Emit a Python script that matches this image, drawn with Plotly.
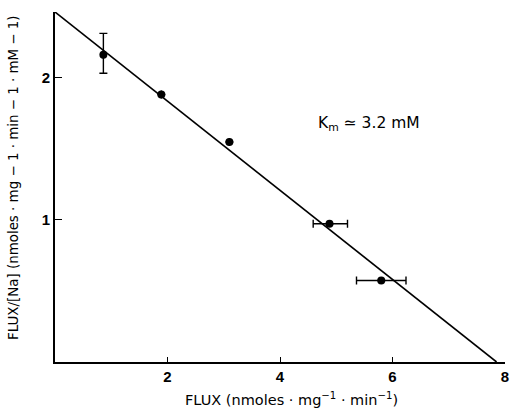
import plotly.graph_objects as go

# Data
flux = [0.86, 1.89, 3.10, 4.88, 5.80]
flux_na = [2.16, 1.88, 1.546, 0.972, 0.573]
y_err_plus = [0.15, 0, 0, 0, 0]
y_err_minus = [0.13, 0, 0, 0, 0]
x_err_plus = [0, 0, 0, 0.32, 0.44]
x_err_minus = [0, 0, 0, 0.29, 0.44]

fit_x = [0.0, 7.85]
fit_y = [2.46, 0.0]

x_ticks = [2, 4, 6, 8]
y_ticks = [1, 2]

x_title = "FLUX (nmoles · mg<sup>−1</sup> · min<sup>−1</sup>)"
y_title = "FLUX/[Na] (nmoles · mg − 1 · min − 1 · mM − 1)"
km_text = "K<sub>m</sub> ≃ 3.2 mM"

font = "Liberation Sans, Arial, Helvetica, sans-serif"
wide = "DejaVu Sans, Liberation Sans, sans-serif"

fig = go.Figure()
fig.add_trace(go.Scatter(x=fit_x, y=fit_y, mode="lines",
                         line=dict(color="black", width=1.6), showlegend=False,
                         cliponaxis=False))
fig.add_trace(go.Scatter(
    x=flux, y=flux_na, mode="markers",
    marker=dict(color="black", size=8),
    error_y=dict(type="data", symmetric=False, array=y_err_plus, arrayminus=y_err_minus,
                 color="black", thickness=1.4, width=4),
    error_x=dict(type="data", symmetric=False, array=x_err_plus, arrayminus=x_err_minus,
                 color="black", thickness=1.4, width=4),
    showlegend=False, cliponaxis=False))

fig.add_annotation(x=5.58, y=1.67, xref="x", yref="y",
                   text=km_text, showarrow=False,
                   font=dict(family=wide, size=15.5, color="black"))

# Axis titles as annotations to match their offset positions
fig.add_annotation(x=0.525, y=-0.105, xref="paper", yref="paper",
                   xanchor="center", yanchor="middle",
                   text=x_title, showarrow=False,
                   font=dict(family=wide, size=14.5, color="black"))
fig.add_annotation(x=-0.091, y=0.526, xref="paper", yref="paper",
                   xanchor="center", yanchor="middle", textangle=-90,
                   text=y_title, showarrow=False,
                   font=dict(family=wide, size=13.4, color="black"))

fig.update_layout(
    width=511, height=413,
    margin=dict(l=55, r=6, t=12, b=51),
    paper_bgcolor="white", plot_bgcolor="white",
    font=dict(family=font, color="black"),
    xaxis=dict(range=[0, 8], tickvals=x_ticks, ticktext=[str(v) for v in x_ticks],
               automargin=False,
               showgrid=False, zeroline=False, showline=True, linecolor="black", linewidth=1.6,
               ticks="inside", ticklen=5, tickwidth=1.4, tickcolor="black",
               tickfont=dict(family=font, size=15, color="black", weight="bold")),
    yaxis=dict(range=[0, 2.46], tickvals=y_ticks, ticktext=[str(v) for v in y_ticks],
               automargin=False,
               showgrid=False, zeroline=False, showline=True, linecolor="black", linewidth=1.6,
               ticks="inside", ticklen=7, tickwidth=1.4, tickcolor="black",
               tickfont=dict(family=font, size=15, color="black", weight="bold")),
)

fig.write_html("out.html", config={"displayModeBar": False},
               post_script="document.body.style.margin='0';document.body.style.overflow='hidden';")
